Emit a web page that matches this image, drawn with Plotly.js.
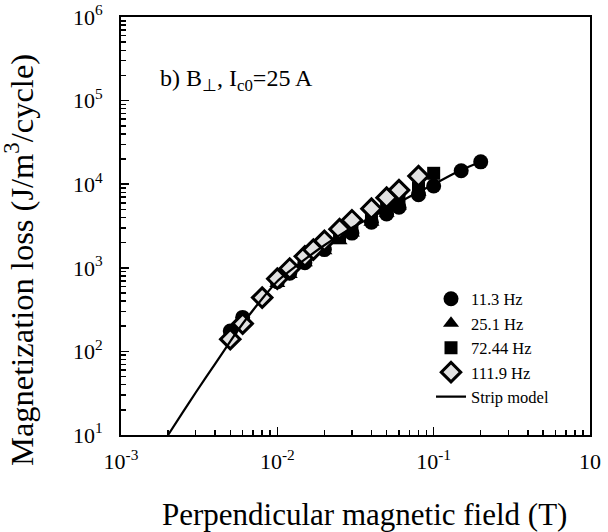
<!DOCTYPE html>
<html>
<head>
<meta charset="utf-8">
<script src="https://cdn.plot.ly/plotly-3.0.1.min.js"></script>
<style>html,body{margin:0;padding:0;background:#fff;}#chart{width:608px;height:532px;}</style>
</head>
<body>
<div id="chart"></div>
<script>
// 11.3 Hz
const b113 = [0.005, 0.006, 0.008, 0.01, 0.012, 0.015, 0.02, 0.03, 0.04, 0.05, 0.06, 0.08, 0.1, 0.15, 0.2];
const q113 = [175, 255, 440, 680, 860, 1150, 1650, 2600, 3500, 4400, 5300, 7500, 9500, 14500, 18500];
// 25.1 Hz
const b251 = [0.01, 0.012, 0.015, 0.02, 0.025, 0.03, 0.04, 0.05, 0.06, 0.08];
const q251 = [650, 830, 1150, 1600, 2100, 2600, 3500, 4500, 5500, 8000];
// 72.44 Hz
const b7244 = [0.015, 0.02, 0.025, 0.03, 0.04, 0.05, 0.06, 0.08, 0.1];
const q7244 = [1250, 1750, 2300, 2900, 4000, 5100, 6200, 9000, 13500];
// 111.9 Hz
const b1119 = [0.005, 0.006, 0.008, 0.01, 0.012, 0.015, 0.017, 0.02, 0.025, 0.03, 0.04, 0.05, 0.06, 0.08];
const q1119 = [140, 215, 440, 740, 980, 1370, 1650, 2100, 2900, 3700, 5100, 6900, 8500, 12500];
// Strip model
const bModel = [0.002, 0.0025, 0.003, 0.004, 0.005, 0.006, 0.008, 0.01, 0.015, 0.02, 0.03, 0.05, 0.07, 0.1, 0.15, 0.2];
const qModel = [10, 19, 32, 71, 132, 214, 427, 692, 1260, 1860, 3020, 5010, 7080, 10000, 14800, 18600];

const xTickVals = [0.001, 0.01, 0.1, 1];
const xTickText = ['10<sup>-3</sup>', '10<sup>-2</sup>', '10<sup>-1</sup>', '10'];
const yTickVals = [10, 100, 1000, 10000, 100000, 1000000];
const yTickText = ['10<sup>1</sup>', '10<sup>2</sup>', '10<sup>3</sup>', '10<sup>4</sup>', '10<sup>5</sup>', '10<sup>6</sup>'];

function minorVals(lo, hi) {
  const out = [];
  for (let e = lo; e < hi; e++) for (let m = 2; m <= 9; m++) out.push(m * Math.pow(10, e));
  return out;
}

const FONT = 'Liberation Serif, Times New Roman, serif';

const traces = [
  {x: b113, y: q113, mode: 'markers', name: '11.3 Hz', type: 'scatter',
   marker: {symbol: 'circle', size: 15, color: '#000'}},
  {x: b251, y: q251, mode: 'markers', name: '25.1 Hz', type: 'scatter',
   marker: {symbol: 'triangle-up', size: 14, color: '#000'}},
  {x: b7244, y: q7244, mode: 'markers', name: '72.44 Hz', type: 'scatter',
   marker: {symbol: 'square', size: 13, color: '#000'}},
  {x: b1119, y: q1119, mode: 'markers', name: '111.9 Hz', type: 'scatter',
   marker: {symbol: 'diamond', size: 15, color: '#e2e2e2', line: {color: '#000', width: 3}}},
  {x: bModel, y: qModel, mode: 'lines', name: 'Strip model', type: 'scatter',
   line: {color: '#000', width: 2.2, shape: 'spline', smoothing: 0.6}}
];

const layout = {
  width: 608, height: 532,
  margin: {l: 121, r: 18, t: 17, b: 97},
  paper_bgcolor: '#fff', plot_bgcolor: '#fff',
  font: {family: FONT, color: '#000', size: 20},
  showlegend: true,
  legend: {x: 0.661, y: 0.367, xanchor: 'left', yanchor: 'top', bgcolor: 'rgba(0,0,0,0)',
           font: {family: FONT, size: 16.5}, tracegroupgap: 0},
  xaxis: {type: 'log', range: [-3, 0], showgrid: false, zeroline: false,
          showline: true, linecolor: '#000', linewidth: 2, mirror: true,
          tickvals: xTickVals, ticktext: xTickText, ticks: 'inside', ticklen: 8, tickwidth: 1.5, tickcolor: '#000',
          minor: {tickvals: minorVals(-3, 0), ticks: 'inside', ticklen: 5, tickwidth: 1.5, tickcolor: '#000', showgrid: false},
          tickfont: {family: FONT, size: 22}, ticklabelstandoff: 6},
  yaxis: {type: 'log', range: [1, 6], showgrid: false, zeroline: false,
          showline: true, linecolor: '#000', linewidth: 2, mirror: true,
          tickvals: yTickVals, ticktext: yTickText, ticks: 'inside', ticklen: 8, tickwidth: 1.5, tickcolor: '#000',
          minor: {tickvals: minorVals(1, 6), ticks: 'inside', ticklen: 5, tickwidth: 1.5, tickcolor: '#000', showgrid: false},
          tickfont: {family: FONT, size: 22}, ticklabelstandoff: 12},
  annotations: [
    {xref: 'paper', yref: 'paper', x: 0.078, y: 0.85, xanchor: 'left', yanchor: 'middle', showarrow: false,
     text: 'b) B<sub>\u22A5</sub>, I<sub>c0</sub>=25 A', font: {family: FONT, size: 24, color: '#000'}},
    {xref: 'paper', yref: 'paper', x: -0.216, y: 0.418, xanchor: 'center', yanchor: 'middle', showarrow: false,
     textangle: -90, text: 'Magnetization loss (J/m<sup>3</sup>/cycle)', font: {family: FONT, size: 32.5, color: '#000'}},
    {xref: 'paper', yref: 'paper', x: 0.52, y: -0.191, xanchor: 'center', yanchor: 'middle', showarrow: false,
     text: 'Perpendicular magnetic field (T)', font: {family: FONT, size: 31, color: '#000'}}
  ]
};

Plotly.newPlot('chart', traces, layout, {displayModeBar: false, staticPlot: true});
</script>
</body>
</html>
